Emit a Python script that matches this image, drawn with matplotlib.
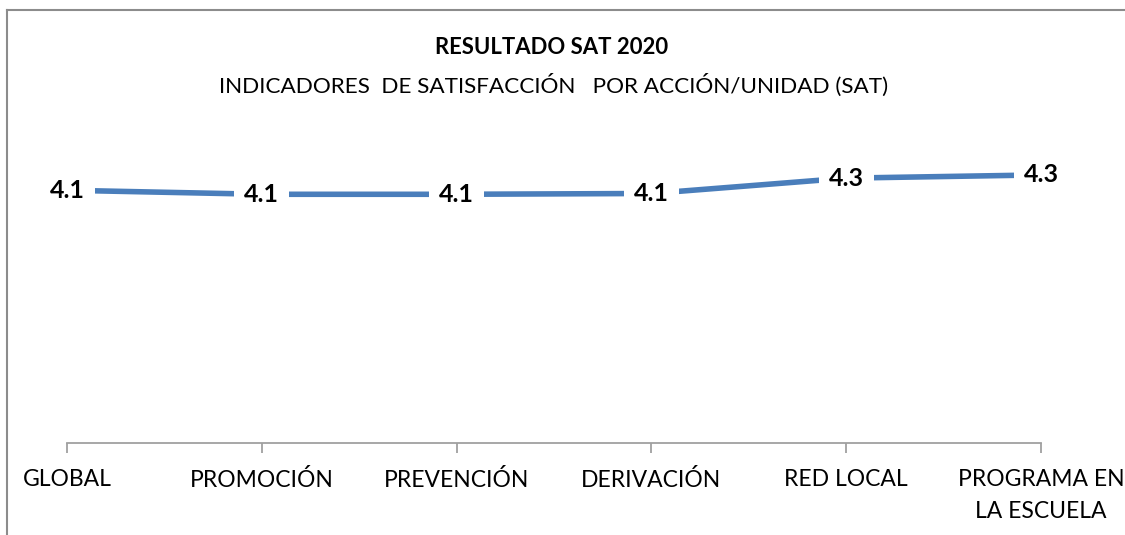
"""Resultado SAT 2020 - indicadores de satisfacción por acción/unidad."""

import matplotlib
matplotlib.use("Agg")
import matplotlib.pyplot as plt
from matplotlib.lines import Line2D

categorias = ["GLOBAL", "PROMOCIÓN", "PREVENCIÓN", "DERIVACIÓN", "RED LOCAL", "PROGRAMA EN\nLA ESCUELA"]
valores = [4.13, 4.08, 4.08, 4.09, 4.28, 4.32]

titulo = "RESULTADO SAT 2020"
subtitulo = "INDICADORES  DE SATISFACCIÓN   POR ACCIÓN/UNIDAD (SAT)"

plt.rcParams["font.family"] = ["Lato", "DejaVu Sans"]

fig = plt.figure(figsize=(11.25, 5.35), dpi=100)
ax = fig.add_axes([67 / 1125, (535 - 443) / 535, (1041 - 67) / 1125, (443 - 120) / 535])

x = list(range(len(categorias)))
ax.plot(x, valores, color="#4a7ebb", linewidth=4, solid_capstyle="butt", zorder=2)

for xi, v in zip(x, valores):
    ax.text(xi, v, f"{v:.1f}", ha="center", va="center", fontsize=18, fontweight="bold",
            color="black", zorder=3,
            bbox=dict(boxstyle="square,pad=0.4", facecolor="white", edgecolor="none"))

ax.set_xlim(0, len(categorias) - 1)
ax.set_ylim(1, 5)
ax.set_xticks(x)
ax.set_xticklabels(categorias, fontsize=16.5, linespacing=1.6)
ax.tick_params(axis="x", direction="out", length=7, width=1.3, color="#a0a0a0", pad=12)
ax.set_yticks([])
for side in ["top", "right", "left"]:
    ax.spines[side].set_visible(False)
ax.spines["bottom"].set_color("#a0a0a0")
ax.spines["bottom"].set_linewidth(1.3)

fig.text(0.490, 1 - 48 / 535, titulo, ha="center", va="center", fontsize=15.9, fontweight="bold")
fig.text(0.4924, 1 - 85 / 535, subtitulo, ha="center", va="center", fontsize=16.2)

# borde del área del gráfico (solo visible arriba e izquierda)
fig.add_artist(Line2D([7 / 1125, 7 / 1125], [0, 1 - 10 / 535], transform=fig.transFigure,
                      color="#8c8c8c", linewidth=1.5))
fig.add_artist(Line2D([7 / 1125, 1], [1 - 10 / 535, 1 - 10 / 535], transform=fig.transFigure,
                      color="#8c8c8c", linewidth=1.5))

fig.savefig("out.png", dpi=100)
